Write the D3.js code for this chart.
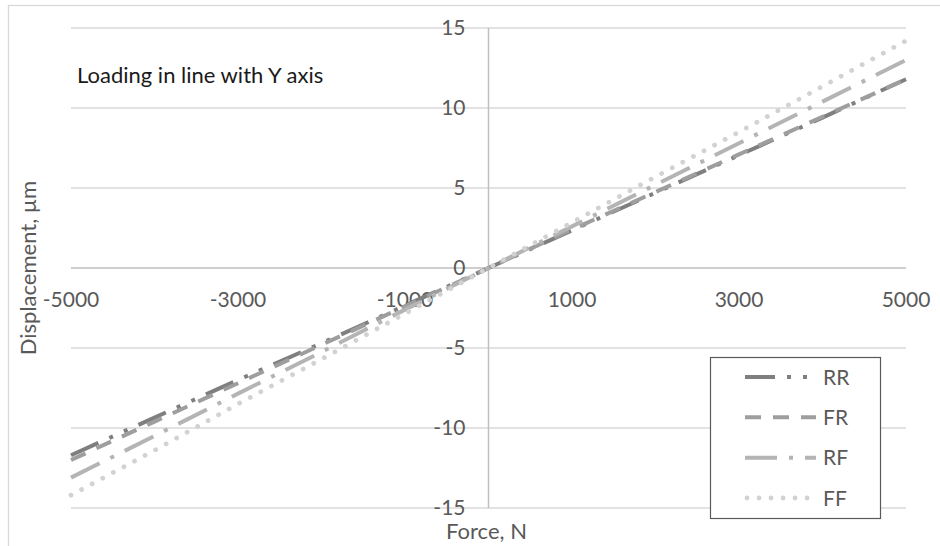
<!DOCTYPE html>
<html>
<head>
<meta charset="utf-8">
<script src="https://cdn.jsdelivr.net/npm/d3@7"></script>
<style>
	html, body { margin: 0; padding: 0; background: #fff; }
	svg { display: block; font-family: Lato, "Open Sans", sans-serif; }
</style>
</head>
<body>
<div id="chart"></div>
<script>
// force values (N) and displacement per configuration (um)
var forces = [-5000, -4000, -3000, -2000, -1000, 0, 1000, 2000, 3000, 4000, 5000];
var seriesNames = ["RR", "FR", "RF", "FF"];
var valuesRR = [-11.7, -9.35, -7.0, -4.7, -2.35, 0, 2.35, 4.7, 7.05, 9.4, 11.8];
var valuesFR = [-12.0, -9.6, -7.2, -4.8, -2.4, 0, 2.4, 4.75, 7.1, 9.45, 11.8];
var valuesRF = [-13.1, -10.5, -7.85, -5.25, -2.6, 0, 2.6, 5.2, 7.8, 10.4, 13.0];
var valuesFF = [-14.2, -11.4, -8.5, -5.7, -2.85, 0, 2.85, 5.7, 8.5, 11.35, 14.2];
var xTicks = [-5000, -3000, -1000, 1000, 3000, 5000];
var yTicks = [-15, -10, -5, 0, 5, 10, 15];

var width = 940, height = 546;
var plot = { left: 71, right: 906, top: 28, bottom: 508 };

// line styles (excel-ish patterns, 4px wide)
var styles = {
	RR: { color: "#7f7f7f", dash: "30 12 4 12 4 12", cap: "butt", width: 4 },
	FR: { color: "#9e9e9e", dash: "16 12", cap: "butt", width: 4 },
	RF: { color: "#b4b4b4", dash: "32 12 4 12", cap: "butt", width: 4 },
	FF: { color: "#d2d2d2", dash: "0.01 12", cap: "round", width: 4.8 }
};
var seriesValues = { RR: valuesRR, FR: valuesFR, RF: valuesRF, FF: valuesFF };

var svg = d3.select("#chart").append("svg")
	.attr("width", width)
	.attr("height", height);

svg.append("rect")
	.attr("width", width)
	.attr("height", height)
	.attr("fill", "#fff");

// chart area border (cropped on right/bottom)
svg.append("rect")
	.attr("x", 8.5)
	.attr("y", 5.5)
	.attr("width", width + 20)
	.attr("height", height + 20)
	.attr("fill", "none")
	.attr("stroke", "#d9d9d9")
	.attr("stroke-width", 1.3);

var x = d3.scaleLinear().domain([-5000, 5000]).range([plot.left, plot.right]);
var y = d3.scaleLinear().domain([-15, 15]).range([plot.bottom, plot.top]);

// horizontal gridlines
svg.append("g").selectAll("line")
	.data(yTicks.filter(function(t) { return t !== 0; })).enter()
	.append("line")
		.attr("x1", plot.left)
		.attr("x2", plot.right)
		.attr("y1", function(t) { return y(t); })
		.attr("y2", function(t) { return y(t); })
		.attr("stroke", "#d9d9d9")
		.attr("stroke-width", 1.3);

// axes crossing at zero
svg.append("line")
	.attr("x1", plot.left).attr("x2", plot.right)
	.attr("y1", y(0)).attr("y2", y(0))
	.attr("stroke", "#bfbfbf")
	.attr("stroke-width", 1.5);
svg.append("line")
	.attr("x1", x(0)).attr("x2", x(0))
	.attr("y1", plot.top).attr("y2", plot.bottom)
	.attr("stroke", "#bfbfbf")
	.attr("stroke-width", 1.5);

// tick labels
svg.append("g").selectAll("text")
	.data(yTicks).enter()
	.append("text")
		.attr("x", x(0) - 23)
		.attr("y", function(t) { return y(t); })
		.attr("dy", "0.33em")
		.attr("text-anchor", "end")
		.attr("fill", "#595959")
		.style("font-size", "21px")
		.text(function(t) { return t; });

svg.append("g").selectAll("text")
	.data(xTicks).enter()
	.append("text")
		.attr("x", function(t) { return x(t); })
		.attr("y", y(0) + 39)
		.attr("text-anchor", "middle")
		.attr("fill", "#595959")
		.style("font-size", "21px")
		.text(function(t) { return t; });

// axis titles
svg.append("text")
	.attr("x", x(0) - 2)
	.attr("y", 539)
	.attr("text-anchor", "middle")
	.attr("fill", "#595959")
	.style("font-size", "22px")
	.text("Force, N");

svg.append("text")
	.attr("transform", "translate(36," + y(0) + ") rotate(-90)")
	.attr("text-anchor", "middle")
	.attr("fill", "#595959")
	.style("font-size", "22px")
	.text("Displacement, \u00b5m");

svg.append("text")
	.attr("x", 77)
	.attr("y", 83)
	.attr("fill", "#1a1a1a")
	.style("font-size", "22px")
	.text("Loading in line with Y axis");

// series lines
var line = d3.line()
	.x(function(d, i) { return x(forces[i]); })
	.y(function(d) { return y(d); });

svg.append("g").selectAll("path")
	.data(seriesNames).enter()
	.append("path")
		.attr("d", function(s) { return line(seriesValues[s]); })
		.attr("fill", "none")
		.attr("stroke", function(s) { return styles[s].color; })
		.attr("stroke-width", function(s) { return styles[s].width; })
		.attr("stroke-dasharray", function(s) { return styles[s].dash; })
		.attr("stroke-linecap", function(s) { return styles[s].cap; });

// legend
var legend = svg.append("g");
legend.append("rect")
	.attr("x", 710.5)
	.attr("y", 357.5)
	.attr("width", 170)
	.attr("height", 161)
	.attr("fill", "#fff")
	.attr("stroke", "#595959")
	.attr("stroke-width", 1.2);

var legendY = d3.scalePoint().domain(seriesNames).range([377, 498]);
var items = legend.selectAll(".item")
	.data(seriesNames).enter()
	.append("g")
		.attr("class", "item")
		.attr("transform", function(s) { return "translate(0," + legendY(s) + ")"; });
items.append("line")
	.attr("x1", function(s) { return s === "FF" ? 747 : 745; })
	.attr("x2", 816)
	.attr("stroke", function(s) { return styles[s].color; })
	.attr("stroke-width", function(s) { return styles[s].width; })
	.attr("stroke-dasharray", function(s) { return styles[s].dash; })
	.attr("stroke-linecap", function(s) { return styles[s].cap; });
items.append("text")
	.attr("x", 823)
	.attr("dy", "0.36em")
	.attr("fill", "#595959")
	.style("font-size", "21px")
	.text(function(s) { return s; });
</script>
</body>
</html>
